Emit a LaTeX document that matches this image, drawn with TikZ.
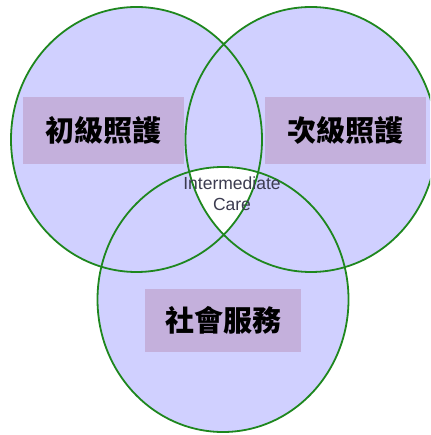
\documentclass[tikz,border=0pt]{standalone}
\usepackage{fontspec}
\setmainfont{Liberation Sans}
\newfontfamily\cjk{Noto Sans CJK TC}
\definecolor{vfill}{RGB}{208,208,255}
\definecolor{vline}{RGB}{30,135,30}
\definecolor{boxfill}{RGB}{196,176,220}
\definecolor{midtext}{RGB}{60,60,80}
\begin{document}
\begin{tikzpicture}[x=1pt,y=-1pt,
  venn/.style={x radius=125.5pt,y radius=132.5pt},
  label/.style={fill=boxfill,inner sep=0pt,font=\cjk\bfseries\fontsize{29}{32}\selectfont,text=black},
  ring/.style={draw=vline,line width=1.8pt}]
\useasboundingbox (0,0) rectangle (430,435);
\clip (0,0) rectangle (430,435);
\coordinate (cl) at (136.5,139.5);
\coordinate (cr) at (311,139.5);
\coordinate (cb) at (223,299.5);
% fills
\fill[vfill] (cl) ellipse [venn];
\fill[vfill] (cr) ellipse [venn];
\fill[vfill] (cb) ellipse [venn];
\begin{scope}
  \clip (cl) ellipse [venn];
  \clip (cr) ellipse [venn];
  \fill[white] (cb) ellipse [venn];
\end{scope}
% outlines
\draw[ring] (cl) ellipse [venn];
\draw[ring] (cr) ellipse [venn];
\draw[ring] (cb) ellipse [venn];
% label boxes
\node[label,minimum width=161pt,minimum height=67pt] (primary) at (103.5,130.5) {初級照護};
\node[label,minimum width=161pt,minimum height=67pt] (secondary) at (345.5,130.5) {次級照護};
\node[label,minimum width=156pt,minimum height=63pt] (social) at (223,320.5) {社會服務};
\node[align=center,text=midtext,font=\fontsize{17.5}{21}\selectfont,inner sep=0pt] (mid) at (232,194) {Intermediate\\Care};
\end{tikzpicture}
\end{document}
